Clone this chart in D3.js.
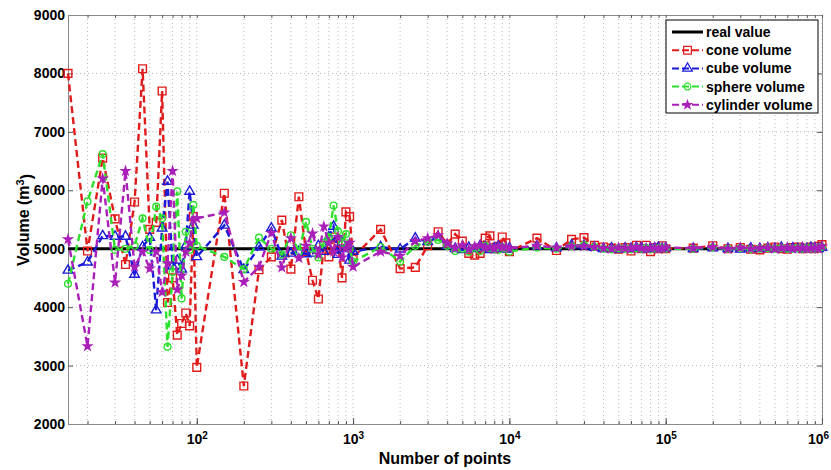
<!DOCTYPE html>
<html>
<head>
<meta charset="utf-8">
<script src="https://cdn.jsdelivr.net/npm/d3@7"></script>
<style>
	body { margin: 0; background: #fff; }
	svg text { font-family: "Liberation Sans", Arial, sans-serif; font-weight: bold; }
</style>
</head>
<body>
<div id="graph"></div>
<script>
// number of points used in each estimate
var nPoints = [15, 20, 25, 30, 35, 40, 45, 50, 55, 60, 65, 70, 75, 80, 85, 90, 95, 100,
	150, 200, 250, 300, 350, 400, 450, 500, 550, 600, 650, 700, 750, 800, 850, 900, 950, 1000,
	1500, 2000, 2500, 3000, 3500, 4000, 4500, 5000, 5500, 6000, 6500, 7000, 7500, 8000, 8500, 9000, 9500, 10000,
	15000, 20000, 25000, 30000, 35000, 40000, 45000, 50000, 55000, 60000, 65000, 70000, 75000, 80000, 85000, 90000, 95000, 100000,
	150000, 200000, 250000, 300000, 350000, 400000, 450000, 500000, 550000, 600000, 650000, 700000, 750000, 800000, 850000, 900000, 950000, 1000000];

var realValue = 5000;

var coneVolume = [8000, 4960, 6550, 5510, 4730, 5800, 8080, 5330, 5450, 7700, 4080, 4500, 3520, 3720, 3900, 3680, 5550, 2970,
	5950, 2650, 4640, 4860, 5490, 4650, 5890, 4950, 4460, 4140, 5050, 4860, 5200, 5100, 4500, 5630, 5550, 4850,
	5330, 4660, 4680, 5050, 5290, 5080, 5250, 5130, 4920, 4890, 4920, 5180, 5220, 5000, 5040, 5200, 5100, 4950,
	5180, 4970, 5160, 5190, 5060, 5030, 5010, 4990, 5020, 4960, 5060, 5000, 5060, 4950, 5020, 5000, 5050, 5000,
	5010, 5050, 5000, 5020, 4990, 4980, 5010, 5030, 5000, 4990, 5020, 5030, 5000, 5010, 5030, 5000, 5040, 5070];

var cubeVolume = [4630, 4770, 5220, 5210, 5210, 4560, 5030, 5190, 3950, 5350, 6150, 4700, 4800, 4650, 5050, 5980, 5400, 4860,
	5400, 4640, 5030, 5350, 4870, 4920, 4950, 4910, 4920, 5050, 4950, 5200, 5380, 4900, 5100, 5000, 4800, 4950,
	5030, 4990, 5180, 5120, 5200, 5050, 5000, 4980, 5020, 5000, 5050, 5030, 4980, 5010, 5040, 5000, 4990, 5010,
	5040, 5010, 5060, 5050, 5020, 5000, 5010, 4990, 5010, 5000, 5020, 5010, 4990, 5000, 5010, 5020, 5000, 5010,
	5000, 5010, 5000, 4990, 5010, 5000, 5010, 5000, 5020, 5000, 5010, 5000, 5010, 5000, 5020, 5010, 5000, 5020];

var sphereVolume = [4400, 5810, 6620, 4980, 5000, 5050, 5520, 4980, 5720, 5520, 3320, 4600, 5980, 4150, 5290, 4980, 5750, 5050,
	4860, 4650, 5190, 5000, 4900, 5230, 4950, 5460, 5000, 4850, 5100, 5200, 5740, 5300, 5100, 5250, 5000, 4780,
	5030, 4780, 5050, 5120, 5150, 5050, 4960, 5000, 4950, 5020, 4960, 5050, 5010, 5000, 4980, 5030, 5000, 4950,
	5020, 5000, 5040, 5060, 5030, 5000, 4990, 5010, 5000, 4990, 5010, 5000, 5010, 4990, 5000, 5010, 5020, 5000,
	5000, 5020, 5000, 5010, 4990, 5000, 5010, 5000, 5010, 5000, 5000, 5010, 5000, 5010, 5010, 5000, 5010, 5030];

var cylinderVolume = [5160, 3330, 6200, 4420, 6330, 4690, 4950, 4660, 4950, 4260, 4750, 6330, 4300, 4540, 4950, 5100, 5500, 5520,
	5620, 4430, 4690, 5270, 4680, 5180, 4840, 5050, 5260, 4900, 5380, 5100, 4950, 5200, 4850, 5000, 5100, 4690,
	4950, 4880, 5130, 5180, 5230, 5090, 5010, 5060, 4990, 5040, 5060, 5020, 5030, 5000, 5040, 5030, 5030, 5010,
	5050, 5020, 5040, 5040, 5030, 5010, 5000, 5020, 5010, 5000, 5030, 5010, 5000, 5010, 5020, 5000, 5010, 5020,
	5010, 5030, 5000, 5020, 5000, 5010, 5020, 5000, 5010, 5020, 5000, 5010, 5020, 5000, 5010, 5020, 5000, 5040];

var yTicks = [2000, 3000, 4000, 5000, 6000, 7000, 8000, 9000];
var xMajorTicks = [1e2, 1e3, 1e4, 1e5, 1e6];

var series = [
	{ name: 'cone volume', values: coneVolume, color: '#e01b1b', symbol: d3.symbolSquare, size: 60, fill: 'none' },
	{ name: 'cube volume', values: cubeVolume, color: '#1a1ad8', symbol: d3.symbolTriangle, size: 40, fill: 'none' },
	{ name: 'sphere volume', values: sphereVolume, color: '#2ee02e', symbol: d3.symbolCircle, size: 36, fill: 'none' },
	{ name: 'cylinder volume', values: cylinderVolume, color: '#a91fb8', symbol: d3.symbolStar, size: 20, fill: '#a91fb8' }
];

var width = 831,
	height = 470;

var margin = { left: 68, right: 9, top: 15, bottom: 46 };
var plotW = width - margin.left - margin.right,
	plotH = height - margin.top - margin.bottom;

var xScale = d3.scaleLog()
	.domain([15, 1e6])
	.range([0, plotW]);

var yScale = d3.scaleLinear()
	.domain([2000, 9000])
	.range([plotH, 0]);

// every decade tick 20, 30, ... , 1e6
var xAllTicks = xScale.ticks().filter(function(d) { return d >= 20; });

var svg = d3.select('#graph').append('svg')
	.attr('width', width)
	.attr('height', height);

var g = svg.append('g')
	.attr('transform', 'translate(' + margin.left + ',' + margin.top + ')');

// dotted grid
g.append('g').selectAll('line').data(xAllTicks).enter()
	.append('line')
		.attr('x1', function(d) { return xScale(d); })
		.attr('x2', function(d) { return xScale(d); })
		.attr('y1', 0)
		.attr('y2', plotH)
		.attr('stroke', '#b8b8b8')
		.attr('stroke-width', 1)
		.attr('stroke-dasharray', '1,3');

g.append('g').selectAll('line').data(yTicks.slice(1, -1)).enter()
	.append('line')
		.attr('x1', 0)
		.attr('x2', plotW)
		.attr('y1', function(d) { return yScale(d); })
		.attr('y2', function(d) { return yScale(d); })
		.attr('stroke', '#b8b8b8')
		.attr('stroke-width', 1)
		.attr('stroke-dasharray', '1,3');

// axes with ticks pointing in
var yAxis = d3.axisLeft(yScale).tickValues(yTicks).tickSize(-5).tickPadding(3).tickFormat(d3.format('d'));
var yAxisR = d3.axisRight(yScale).tickValues(yTicks).tickSize(-5).tickFormat('');
var xAxisMinor = d3.axisBottom(xScale).tickValues(xAllTicks).tickSize(-3).tickFormat('');
var xAxisMajor = d3.axisBottom(xScale).tickValues(xMajorTicks).tickSize(-6).tickPadding(10);
var xAxisTop = d3.axisTop(xScale).tickValues(xAllTicks).tickSize(-3).tickFormat('');

g.append('g').attr('class', 'axis').call(yAxis);
g.append('g').attr('class', 'axis').attr('transform', 'translate(' + plotW + ',0)').call(yAxisR);
g.append('g').attr('class', 'axis').attr('transform', 'translate(0,' + plotH + ')').call(xAxisMinor);
var xMaj = g.append('g').attr('class', 'axis').attr('transform', 'translate(0,' + plotH + ')').call(xAxisMajor);
g.append('g').attr('class', 'axis').call(xAxisTop);

g.selectAll('.axis path').attr('stroke', '#8a8a8a');
g.selectAll('.axis line').attr('stroke', '#555');
g.selectAll('.axis text')
	.attr('fill', '#000')
	.style('font-size', '14px')
	.style('font-family', '"Liberation Sans", Arial, sans-serif')
	.style('font-weight', 'bold');

// 10^n labels
xMaj.selectAll('.tick text').each(function(d) {
	var t = d3.select(this);
	t.text('');
	if (d === 1e6) t.attr('x', -4);
	t.append('tspan').text('10');
	t.append('tspan')
		.attr('dy', '-0.45em')
		.style('font-size', '10px')
		.text(Math.round(Math.log10(d)));
});

// real value
var line = d3.line()
	.x(function(d, i) { return xScale(nPoints[i]); })
	.y(function(d) { return yScale(d); });

g.append('line')
	.attr('x1', 0)
	.attr('x2', plotW)
	.attr('y1', yScale(realValue))
	.attr('y2', yScale(realValue))
	.attr('stroke', '#000')
	.attr('stroke-width', 3);

series.forEach(function(s) {
	g.append('path')
		.datum(s.values)
		.attr('d', line)
		.attr('fill', 'none')
		.attr('stroke', s.color)
		.attr('stroke-width', 2.4)
		.attr('stroke-dasharray', '7,4');

	g.append('g').selectAll('path').data(s.values).enter()
		.append('path')
			.attr('transform', function(d, i) {
				return 'translate(' + xScale(nPoints[i]) + ',' + yScale(d) + ')';
			})
			.attr('d', d3.symbol().type(s.symbol).size(s.size))
			.attr('fill', s.fill)
			.attr('stroke', s.color)
			.attr('stroke-width', 1.4);
});

// axis titles
svg.append('text')
	.attr('x', 445)
	.attr('y', 464)
	.attr('text-anchor', 'middle')
	.style('font-size', '16px')
	.text('Number of points');

var yLabel = svg.append('text')
	.attr('transform', 'translate(29,220) rotate(-90)')
	.attr('text-anchor', 'middle')
	.style('font-size', '16px');
yLabel.append('tspan').text('Volume (m');
yLabel.append('tspan').attr('dy', '-0.5em').style('font-size', '11px').text('3');
yLabel.append('tspan').attr('dy', '0.5em').text(')');

// legend
var legend = svg.append('g').attr('transform', 'translate(666,20)');
legend.append('rect')
	.attr('width', 152)
	.attr('height', 93)
	.attr('fill', '#fff')
	.attr('stroke', '#000')
	.attr('stroke-width', 1);

var legendItems = [{ name: 'real value', color: '#000' }].concat(series);

legendItems.forEach(function(s, i) {
	var y = 12 + i * 18.2;
	var row = legend.append('g').attr('transform', 'translate(0,' + y + ')');
	row.append('line')
		.attr('x1', 6)
		.attr('x2', 37)
		.attr('stroke', s.color)
		.attr('stroke-width', s.symbol ? 2 : 3)
		.attr('stroke-dasharray', s.symbol ? '7,3' : null);
	if (s.symbol) {
		row.append('path')
			.attr('transform', 'translate(21.5,0)')
			.attr('d', d3.symbol().type(s.symbol).size(s.size))
			.attr('fill', s.fill)
			.attr('stroke', s.color)
			.attr('stroke-width', 1.2);
	}
	row.append('text')
		.attr('x', 40)
		.attr('y', 5)
		.style('font-size', '14px')
		.text(s.name);
});
</script>
</body>
</html>
